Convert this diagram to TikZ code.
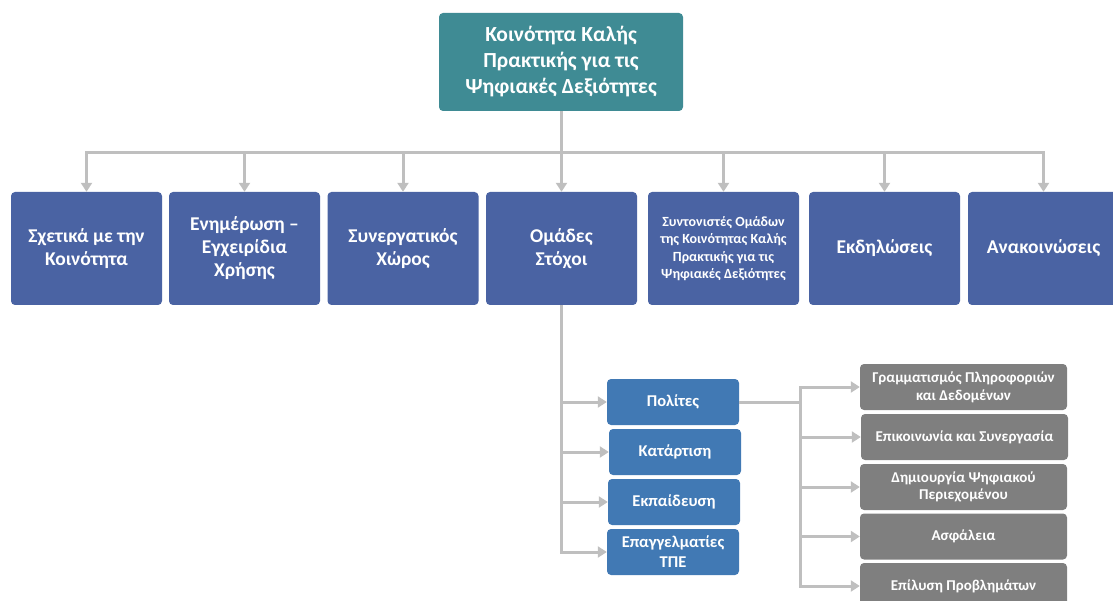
\documentclass[tikz,border=0pt]{standalone}
\usepackage{fontspec}
\setmainfont{Carlito}
\usetikzlibrary{arrows.meta,calc}
\definecolor{rootc}{HTML}{3F8B94}
\definecolor{topc}{HTML}{4A63A3}
\definecolor{midc}{HTML}{4179B4}
\definecolor{grayc}{HTML}{7F7F7F}
\definecolor{linec}{HTML}{BFBFBF}
\begin{document}
\begin{tikzpicture}[x=1pt,y=-1pt,
  box/.style={rectangle, rounded corners=4pt, text=white, align=center, inner sep=0pt},
  rootbox/.style={box, fill=rootc, minimum width=244pt, minimum height=98pt, font=\bfseries\fontsize{21.5}{26}\selectfont},
  topbox/.style={box, fill=topc, minimum width=151pt, minimum height=113pt, font=\bfseries\fontsize{19.5}{23}\selectfont},
  smalltop/.style={font=\bfseries\fontsize{14}{17.5}\selectfont},
  midbox/.style={box, fill=midc, minimum width=132pt, minimum height=46pt, font=\bfseries\fontsize{16.5}{20}\selectfont},
  graybox/.style={box, fill=grayc, minimum width=207pt, minimum height=46pt, font=\bfseries\fontsize{15}{17.7}\selectfont},
  conn/.style={draw=linec, line width=3pt},
  arr/.style={conn, -{Triangle[length=9pt,width=11pt]}}
]
\useasboundingbox (0,0) rectangle (1113,601);
\clip (0,0) rectangle (1113,601);

\node[rootbox] (root) at (561,62) {Κοινότητα Καλής\\Πρακτικής για τις\\Ψηφιακές Δεξιότητες};

\node[topbox] (t1) at (86.5,248.5) {Σχετικά με την\\Κοινότητα};
\node[topbox] (t2) at (244.5,248.5) {Ενημέρωση –\\Εγχειρίδια\\Χρήσης};
\node[topbox] (t3) at (403,248.5) {Συνεργατικός\\Χώρος};
\node[topbox] (t4) at (561.5,248.5) {Ομάδες\\Στόχοι};
\node[topbox, smalltop] (t5) at (723.5,248.5) {Συντονιστές Ομάδων\\της Κοινότητας Καλής\\Πρακτικής για τις\\Ψηφιακές Δεξιότητες};
\node[topbox] (t6) at (884.5,248.5) {Εκδηλώσεις};
\node[topbox] (t7) at (1043.5,248.5) {Ανακοινώσεις};

\node[midbox] (m1) at (673,402) {Πολίτες};
\node[midbox] (m2) at (675,452) {Κατάρτιση};
\node[midbox] (m3) at (674,502) {Εκπαίδευση};
\node[midbox] (m4) at (673,552) {Επαγγελματίες\\ΤΠΕ};

\node[graybox] (g1) at (963.5,387) {Γραμματισμός Πληροφοριών\\και Δεδομένων};
\node[graybox] (g2) at (964.5,437) {Επικοινωνία και Συνεργασία};
\node[graybox] (g3) at (963.5,487) {Δημιουργία Ψηφιακού\\Περιεχομένου};
\node[graybox] (g4) at (963.5,536.5) {Ασφάλεια};
\node[graybox] (g5) at (963.5,586) {Επίλυση Προβλημάτων};

% top connectors
\coordinate (bus) at ($(root.south)+(0,41)$);
\draw[conn] (root.south) -- (bus);
\foreach \t in {t1,t2,t3,t4,t5,t6,t7}
  \draw[arr] (bus) -| (\t.north);

% to target groups
\foreach \m in {m1,m2,m3,m4}
  \draw[arr] (t4.south) |- (\m.west);

% to competence areas
\coordinate (split) at ($(m1.east)+(61,0)$);
\draw[conn] (m1.east) -- (split);
\foreach \g in {g1,g2,g3,g4,g5}
  \draw[arr] (split) |- (\g.west);
\end{tikzpicture}
\end{document}
